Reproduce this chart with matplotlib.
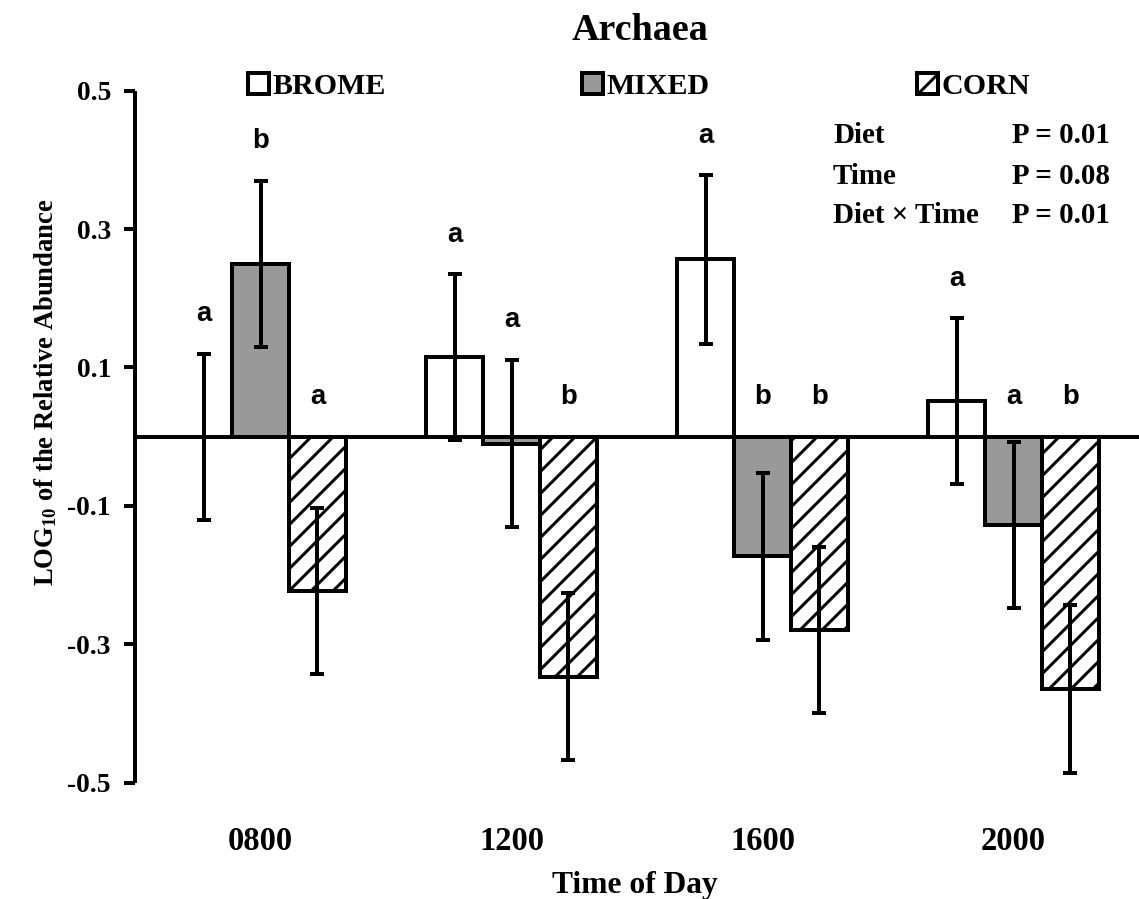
import numpy as np
import matplotlib
matplotlib.use("Agg")
import matplotlib.pyplot as plt

# ---------------- data ----------------
times = ["0800", "1200", "1600", "2000"]
diets = ["BROME", "MIXED", "CORN"]
brome = [0.000, 0.115, 0.256, 0.051]
mixed = [0.250, -0.010, -0.173, -0.128]
corn = [-0.223, -0.347, -0.280, -0.365]
brome_se = [0.120, 0.120, 0.122, 0.120]
mixed_se = [0.120, 0.121, 0.121, 0.120]
corn_se = [0.120, 0.121, 0.120, 0.121]
brome_letters = ["a", "a", "a", "a"]
mixed_letters = ["b", "a", "b", "a"]
corn_letters = ["a", "b", "b", "b"]
stat_terms = ["Diet", "Time", "Diet \u00d7 Time"]
stat_pvals = ["P = 0.01", "P = 0.08", "P = 0.01"]
yticks = [-0.5, -0.3, -0.1, 0.1, 0.3, 0.5]

# ---------------- style ----------------
DPI = 66
W, H = 1139, 899


def pt(px):
    return px * 72.0 / DPI


plt.rcParams["font.family"] = ["Liberation Serif", "DejaVu Serif"]
plt.rcParams["font.weight"] = "bold"
plt.rcParams["mathtext.fontset"] = "custom"
plt.rcParams["mathtext.rm"] = "Liberation Serif:bold"
plt.rcParams["mathtext.bf"] = "Liberation Serif:bold"
plt.rcParams["mathtext.it"] = "Liberation Serif:italic:bold"
plt.rcParams["hatch.linewidth"] = pt(3)
plt.rcParams["hatch.color"] = "black"

fig = plt.figure(figsize=(W / DPI, H / DPI), dpi=DPI)
ax = fig.add_axes([135 / W, 1 - 782.5 / H, (W - 135) / W, (782.5 - 90.7) / H])

x = np.arange(len(times))
bw = 0.2266
lw = pt(4)

b1 = ax.bar(x - bw, brome, bw, color="white", edgecolor="black", linewidth=lw, zorder=2)
b2 = ax.bar(x, mixed, bw, color="#999999", edgecolor="black", linewidth=lw, zorder=2)
b3 = ax.bar(x + bw, corn, bw, color="white", edgecolor="black", linewidth=lw,
            hatch="/", zorder=2)

ax.axhline(0, color="black", linewidth=lw, zorder=2.5)

for pos, vals, se, letters in [(x - bw, brome, brome_se, brome_letters),
                               (x, mixed, mixed_se, mixed_letters),
                               (x + bw, corn, corn_se, corn_letters)]:
    ax.errorbar(pos, vals, yerr=se, fmt="none", ecolor="black", elinewidth=lw,
                capsize=pt(7), capthick=lw, zorder=3)
    for xi, v, s, L in zip(pos, vals, se, letters):
        ax.text(xi, max(v + s, 0) + 0.047, L, ha="center", va="baseline",
                family="Liberation Sans", weight="bold", size=pt(27.5))

ax.set_xlim(-0.5, 3.5)
ax.set_ylim(-0.5, 0.5)
ax.set_yticks(yticks)
ax.set_yticklabels([f"{v:.1f}" for v in yticks])
ax.set_xticks(x)
ax.set_xticklabels(times)
ax.tick_params(axis="y", length=pt(11), width=lw, pad=pt(13), labelsize=pt(27.5),
               direction="out")
ax.tick_params(axis="x", length=0, pad=pt(43), labelsize=pt(32.5))
for s in ["top", "right", "bottom"]:
    ax.spines[s].set_visible(False)
ax.spines["left"].set_linewidth(lw)
ax.spines["left"].set_capstyle("butt")

# legend (three separate entries)
for cont, name, hx in [(b1, diets[0], 248), (b2, diets[1], 582), (b3, diets[2], 917)]:
    fig.legend([cont], [name], loc="center left",
               bbox_to_anchor=(hx / W, 1 - 86 / H), bbox_transform=fig.transFigure,
               frameon=False, borderpad=0, borderaxespad=0,
               handlelength=21 / 30, handleheight=21 / 30, handletextpad=0.12,
               prop={"family": "Liberation Serif", "weight": "bold", "size": pt(30)})

# stats block
for term, pv, yb in zip(stat_terms, stat_pvals, [143, 184, 223]):
    fig.text(833 / W, 1 - yb / H, term, ha="left", va="baseline", size=pt(29), weight="bold")
    fig.text(1012 / W, 1 - yb / H, pv, ha="left", va="baseline", size=pt(29), weight="bold")

fig.text(640 / W, 1 - 40 / H, "Archaea", ha="center", va="baseline", size=pt(38), weight="bold")
fig.text(635 / W, 1 - 893 / H, "Time of Day", ha="center", va="baseline", size=pt(31.5),
         weight="bold")
fig.text(46 / W, 1 - 392 / H, r"LOG$_{10}$ of the Relative Abundance", rotation=90,
         ha="center", va="center", size=pt(26.6), weight="bold")

fig.savefig("out.png", dpi=DPI)
